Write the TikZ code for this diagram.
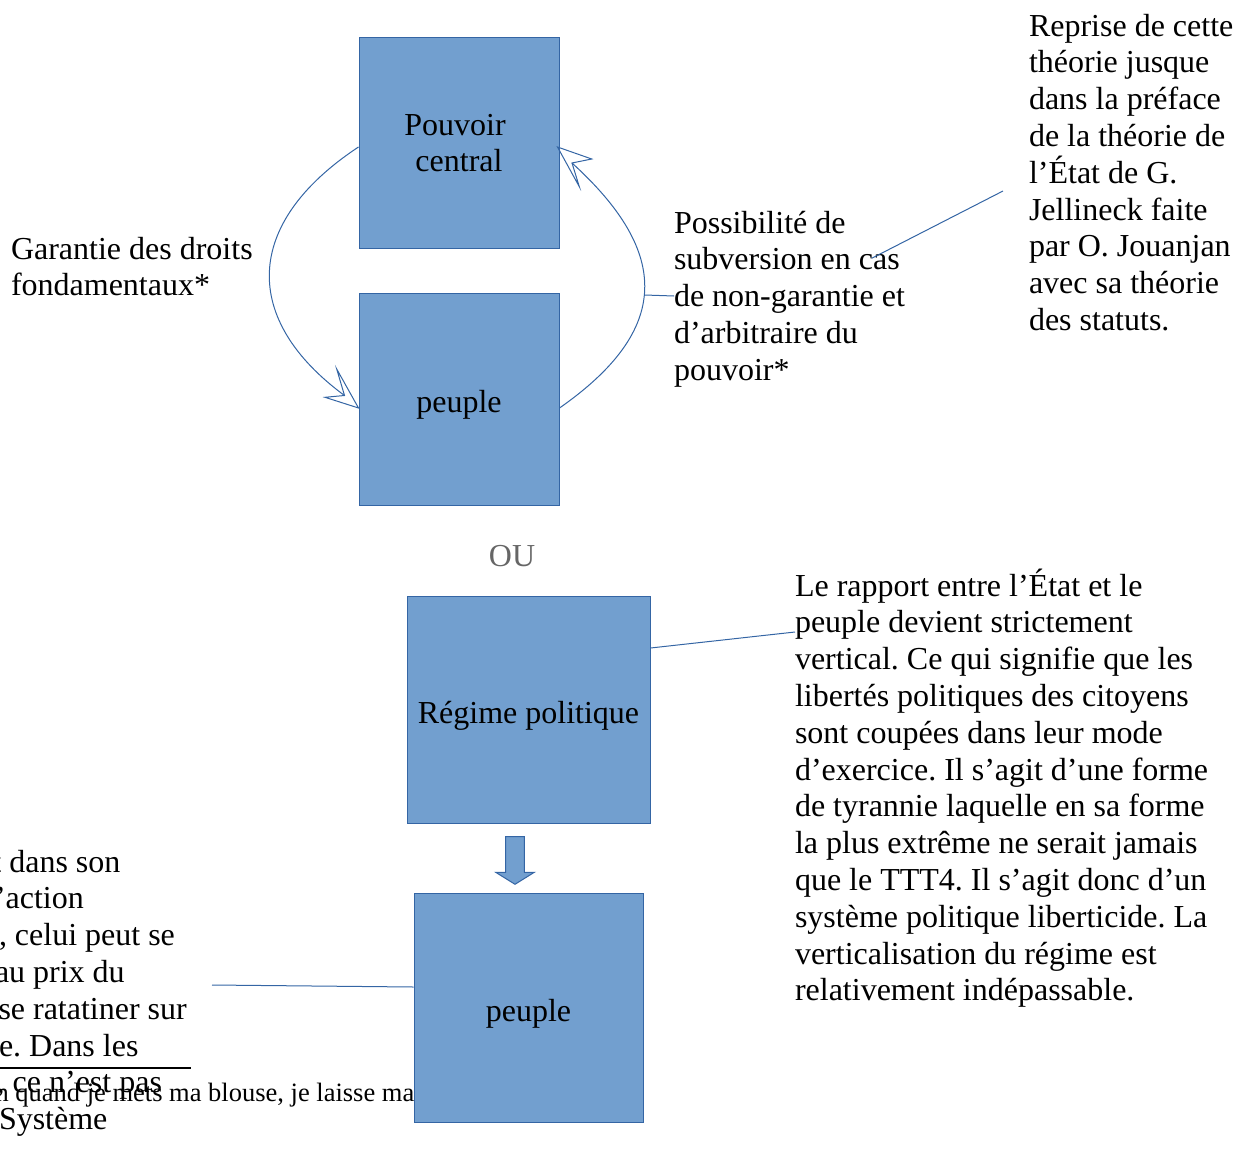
\documentclass[tikz,border=0pt]{standalone}
\usepackage{fontspec}
\setmainfont{Liberation Serif}
\frenchspacing
\definecolor{boxfill}{HTML}{729FCF}
\definecolor{boxline}{HTML}{3465A4}
\definecolor{ougray}{HTML}{666666}
\tikzset{
  box/.style={draw=boxline, fill=boxfill, line width=1pt, inner sep=0pt, align=center,
    font=\fontsize{32}{36.8}\selectfont},
  onebox/.style={box, text height=34pt, text depth=7pt},
  conn/.style={draw=boxline, line width=1pt},
  txt/.style={inner sep=0pt, outer sep=0pt, align=left, anchor=base west,
    font=\fontsize{32}{36.8}\selectfont},
}
\begin{document}
\begin{tikzpicture}[x=1pt,y=-1pt]
\useasboundingbox (0,0) rectangle (1236,1169);
% texts behind boxes (anchor = baseline of last line)
\node[txt] (lefttxt) at (0,1129.6) {\hspace*{-7.6pt}t dans son\\
\hspace*{-5pt}’action\\
\hspace*{-1pt}, celui peut se\\
\hspace*{-5pt}au prix du\\
\hspace*{-1.5pt}se ratatiner sur\\
\hspace*{-1pt}e. Dans les\\
\hspace*{-3.3pt}, ce n’est pas\\
\hspace*{-1pt}Système};
\node[txt, font=\fontsize{26.5}{30}\selectfont] (small) at (-4.5,1101.7) {n quand je mets ma blouse, je laisse ma blouse au vestiaire};
\coordinate (sepA) at (0,1067.5);
\coordinate (sepB) at (190.7,1067.5);
\draw[black, line width=2pt] (sepA) -- (sepB);

% boxes
\node[box, minimum width=200pt, minimum height=210pt] (pc) at (459,143) {\hspace*{-8pt}Pouvoir\\central};
\node[onebox, minimum width=200pt, minimum height=212pt] (p1) at (459,399) {peuple};
\node[onebox, minimum width=243pt, minimum height=227pt] (reg) at (528.5,709.5) {Régime politique};
\node[onebox, minimum width=229pt, minimum height=229pt] (p2) at (528.5,1007.5) {peuple};

% OU
\node[inner sep=0pt, text=ougray, font=\fontsize{32}{36.8}\selectfont] (ou) at (512,556) {OU};

% block arrow
\draw[draw=boxline, fill=boxfill, line width=1pt] (505.7,836.7) -- (524.3,836.7) -- (524.3,872.3) -- (534.3,872.3) -- (515,884.3) -- (495.7,872.3) -- (505.7,872.3) -- cycle;

% text blocks
\node[txt] (gar) at (11,295.8) {Garantie des droits\\fondamentaux*};
\node[txt] (poss) at (674,380.2) {Possibilité de\\subversion en cas\\de non-garantie et\\d’arbitraire du\\pouvoir*};
\node[txt] (rep) at (1029,330.4) {Reprise de cette\\théorie jusque\\dans la préface\\de la théorie de\\l’État de G.\\Jellineck faite\\par O. Jouanjan\\avec sa théorie\\des statuts.};
\node[txt] (rap) at (795,1000.8) {Le rapport entre l’État et le\\peuple devient strictement\\vertical. Ce qui signifie que les\\libertés politiques des citoyens\\sont coupées dans leur mode\\d’exercice. Il s’agit d’une forme\\de tyrannie laquelle en sa forme\\la plus extrême ne serait jamais\\que le TTT4. Il s’agit donc d’un\\système politique liberticide. La\\verticalisation du régime est\\relativement indépassable.};

% curved arrows
\coordinate (lnotch) at (344.5,395.5);
\draw[conn] ([yshift=-4pt]pc.west) .. controls (242,224) and (242,320) .. (lnotch);
\draw[conn, line join=miter] ([yshift=-9pt]p1.west) -- (336.7,369) -- (lnotch) -- (325,397.3) -- cycle;

\coordinate (rnotch) at (572,163);
\draw[conn] ([yshift=-9pt]p1.east) .. controls (671,330) and (671,253) .. (rnotch);
\draw[conn, line join=miter] ([xshift=-2pt,yshift=-4pt]pc.east) -- (591.7,159) -- (rnotch) -- (579.3,186.7) -- cycle;

% callout lines
\coordinate (arcpt) at (644.6,295);
\draw[conn] (arcpt) -- (poss.west |- 0,296);
\coordinate (jelA) at (1003,191);
\coordinate (jelB) at (871.7,258.3);
\draw[conn] (jelA) -- (jelB);
\coordinate (rapA) at (795,632);
\draw[conn] ([yshift=61.5pt]reg.east) -- (rapA);
\coordinate (leftA) at (212,985);
\draw[conn] (leftA) -- ([yshift=20.5pt]p2.west);
\end{tikzpicture}
\end{document}
